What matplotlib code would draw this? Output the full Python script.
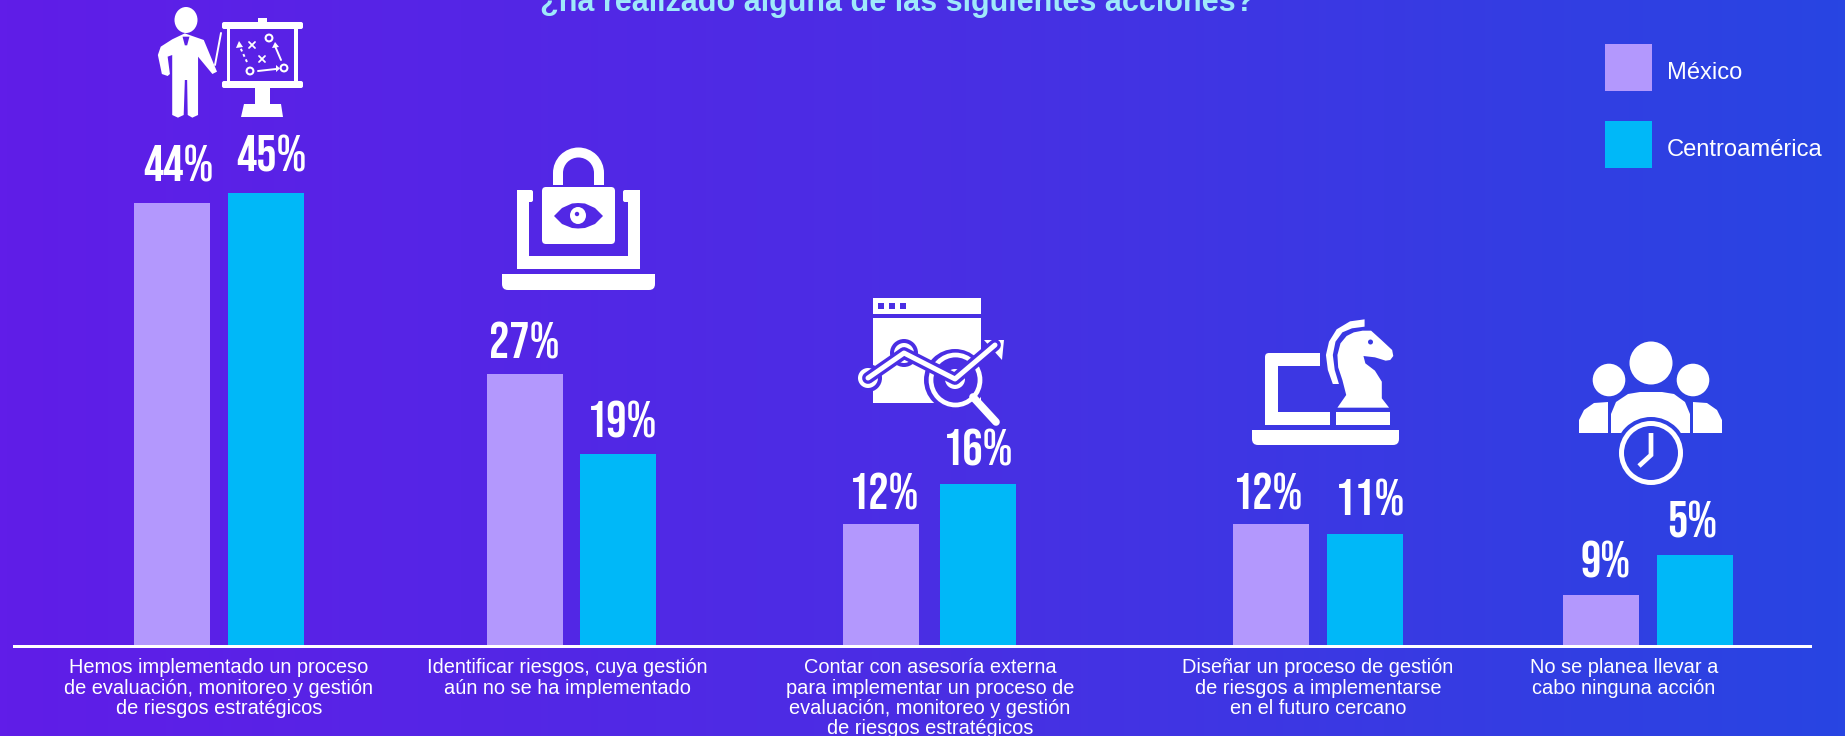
"""Barras México / Centroamérica sobre fondo degradado, con iconos dibujados a mano."""

import numpy as np
import matplotlib
matplotlib.use("Agg")
import matplotlib.pyplot as plt
from matplotlib.colors import LinearSegmentedColormap
from matplotlib.patches import Circle, Ellipse, FancyBboxPatch, Polygon, Rectangle, Wedge

TITLE = "¿ha realizado alguna de las siguientes acciones?"
SERIES = ["México", "Centroamérica"]
CATEGORIES = [
    "Hemos implementado un proceso\nde evaluación, monitoreo y gestión\nde riesgos estratégicos",
    "Identificar riesgos, cuya gestión\naún no se ha implementado",
    "Contar con asesoría externa\npara implementar un proceso de\nevaluación, monitoreo y gestión\nde riesgos estratégicos",
    "Diseñar un proceso de gestión\nde riesgos a implementarse\nen el futuro cercano",
    "No se planea llevar a\ncabo ninguna acción",
]
# Bar heights as drawn. The last group's printed labels do not follow the heights
# (short bar says 9%, tall bar says 5%), so the labels are kept separately.
MEXICO = [44, 27, 12, 12, 5]
CENTRO = [45, 19, 16, 11, 9]
MEXICO_LABELS = ["44%", "27%", "12%", "12%", "9%"]
CENTRO_LABELS = ["45%", "19%", "16%", "11%", "5%"]

# layout, pixels of the 1845x736 canvas
W, H = 1845, 736
BASE_Y = 645
PX_PER_PCT = 10.05
MEX_LEFT = [134, 487, 843, 1233, 1563]
CEN_LEFT = [228, 580, 940, 1327, 1657]
BAR_W = 76
CAT_X = [219, 567, 930, 1318, 1624]
MEX_DX = [6, -1, 3, -3, 5]
MEX_GAP = [21, 15, 15, 15, 17]
CEN_DX = [5, 4, 0, 5, -3]
CEN_GAP = [21, 17, 19, 19, 17]

C_MEX = "#B398FD"
C_CEN = "#00B8F8"
C_TITLE = "#9FE9FA"
SANS = ["Liberation Sans", "DejaVu Sans"]
CONDENSED = ["Bebas Neue", "Oswald", "Liberation Sans", "DejaVu Sans"]

grad = LinearSegmentedColormap.from_list("bg", ["#601DE8", "#4A2EE4", "#2845E2"])


def bg(x):
    return grad(x / W)


def poly(ov, pts, sx=1.0, sy=1.0, ox=0.0, oy=0.0, color="white", lw=0):
    xy = [(ox + px / sx, oy + py / sy) for px, py in pts]
    ov.add_patch(Polygon(xy, closed=True, facecolor=color, edgecolor=color, lw=lw))


def rect(ov, x0, y0, x1, y1, color="white"):
    ov.add_patch(Rectangle((x0, y0), x1 - x0, y1 - y0, facecolor=color, lw=0))


def round_rect(ov, x0, y0, x1, y1, r=3, color="white"):
    ov.add_patch(FancyBboxPatch((x0 + r, y0 + r), x1 - x0 - 2 * r, y1 - y0 - 2 * r,
                                boxstyle=f"round,pad={r}", facecolor=color, lw=0))


def laptop_base(ov, x0, y0, x1, y1):
    round_rect(ov, x0, y0, x1, y1, 6)
    rect(ov, x0, y0, x1, y0 + 7)


def line(ov, xs, ys, lw=2.0, color="white", ls="-"):
    ov.plot(xs, ys, color=color, lw=lw, ls=ls, solid_capstyle="round")


def icon_presenter(ov):
    ov.add_patch(Ellipse((186, 20), 23, 26, color="white", lw=0))
    body = [(322, 100), (300, 118), (280, 140), (275, 165), (282, 222), (292, 228), (296, 222),
            (292, 170), (300, 165), (300, 345), (310, 353), (320, 345), (322, 240), (326, 240),
            (327, 345), (335, 353), (345, 345), (345, 170), (370, 222), (378, 215), (355, 120),
            (335, 108)]
    poly(ov, body, 1.742, 3)
    poly(ov, [(318, 110), (330, 110), (326, 136), (322, 136)], 1.742, 3, color=bg(185))
    line(ov, [221, 215], [33, 65], lw=1.4)
    round_rect(ov, 222, 22, 303, 29, 2)
    round_rect(ov, 222, 81, 303, 88, 2)
    rect(ov, 258, 18, 267, 23)
    rect(ov, 227, 28, 230, 82)
    rect(ov, 294, 28, 298, 82)
    rect(ov, 255, 88, 270, 104)
    poly(ov, [(244, 104), (281, 104), (283, 117), (241, 117)])
    for cx, cy in [(250, 71), (284, 68), (269, 38)]:
        ov.add_patch(Circle((cx, cy), 3.4, facecolor="none", edgecolor="white", lw=1.5))
    line(ov, [258, 276], [71, 69], lw=1.4)
    poly(ov, [(276, 65), (280, 68.5), (276, 72)])
    line(ov, [281, 275], [60, 46], lw=1.4)
    poly(ov, [(272, 48), (275, 42), (279, 47)])
    line(ov, [247, 240], [62, 47], lw=1.4, ls=(0, (1.5, 1.5)))
    poly(ov, [(236, 48), (239, 41), (243, 47)])
    for cx, cy in [(252, 45), (262, 59)]:
        line(ov, [cx - 3, cx + 3], [cy - 3, cy + 3], lw=1.3)
        line(ov, [cx - 3, cx + 3], [cy + 3, cy - 3], lw=1.3)


def icon_lock(ov):
    laptop_base(ov, 502, 274, 655, 290)
    rect(ov, 517, 190, 529, 269)
    rect(ov, 628, 190, 640, 269)
    rect(ov, 517, 256, 640, 269)
    round_rect(ov, 517, 190, 533, 202, 2)
    round_rect(ov, 623, 190, 640, 202, 2)
    ov.add_patch(Wedge((578.5, 173), 25.5, 180, 360, width=10, color="white", lw=0))
    rect(ov, 553, 173, 563, 185)
    rect(ov, 594, 173, 604, 185)
    round_rect(ov, 542, 187, 615, 244, 4)
    c = bg(578)
    eye = [(554, 216), (562, 208), (572, 203.5), (578, 203), (585, 203.5), (595, 208), (603, 216),
           (595, 224), (585, 228), (578, 228.5), (572, 228), (562, 224)]
    poly(ov, eye, color=c)
    ov.add_patch(Ellipse((578, 215.5), 16, 17, color="white", lw=0))
    ov.add_patch(Circle((577, 214), 2.2, color=c, lw=0))


def icon_analytics(ov):
    c = bg(920)
    xs, ys = [868, 904, 955, 995], [378, 353, 379, 345]
    rect(ov, 873, 298, 981, 314)
    for x0 in (878, 889, 900):
        rect(ov, x0, 303, x0 + 6, 309, c)
    rect(ov, 873, 318, 981, 403)
    # halo of the trend line and the lens cut out of the window
    line(ov, xs, ys, lw=8.5, color=c)
    ov.add_patch(Circle((868, 378), 14, color=c, lw=0))
    ov.add_patch(Circle((904, 353), 14, color=c, lw=0))
    ov.add_patch(Ellipse((955, 380), 62, 62, color=c, lw=0))
    rect(ov, 981, 345, 990, 404, c)
    line(ov, xs, ys, lw=3.6)
    poly(ov, [(984, 340), (1004, 340), (1002, 360)])
    for cx, cy in [(868, 378), (904, 353), (955, 379)]:
        ov.add_patch(Circle((cx, cy), 10, color="white", lw=0))
        ov.add_patch(Circle((cx, cy), 3, color=c, lw=0))
    ov.add_patch(Ellipse((955.5, 380), 49, 50, facecolor="none", edgecolor="white", lw=3.4))
    line(ov, [973, 996], [397, 422], lw=5.5)


def icon_knight(ov):
    laptop_base(ov, 1252, 430, 1399, 445)
    round_rect(ov, 1265, 353, 1290, 378, 4)
    rect(ov, 1278, 366, 1330, 412, bg(1300))
    rect(ov, 1265, 370, 1278, 425)
    rect(ov, 1275, 353, 1320, 366)
    rect(ov, 1265, 412, 1330, 425)
    rect(ov, 1336, 412, 1390, 425)
    knight = [(1352, 383), (1375, 345), (1365, 300), (1354, 262), (1352, 225), (1360, 190),
              (1376, 168), (1395, 157), (1418, 152), (1440, 152), (1467, 180), (1495, 210),
              (1498, 228), (1490, 240), (1478, 242), (1450, 232), (1420, 228), (1425, 250),
              (1450, 272), (1468, 305), (1468, 355), (1487, 383)]
    poly(ov, knight, 2.613, 3, 820, 280)
    arc = [(1423, 118), (1385, 124), (1350, 148), (1330, 185), (1322, 225), (1327, 270),
           (1340, 312), (1356, 312), (1345, 270), (1340, 225), (1347, 185), (1365, 157),
           (1390, 145), (1423, 140)]
    poly(ov, arc, 2.613, 3, 820, 280)
    ov.add_patch(Ellipse((1370.5, 342), 5, 5, color=bg(1370), lw=0))


def icon_team(ov):
    c = bg(1650)
    ov.add_patch(Circle((1651, 363), 21.5, color="white", lw=0))
    ov.add_patch(Circle((1609, 380), 16.3, color="white", lw=0))
    ov.add_patch(Circle((1693, 380), 16.3, color="white", lw=0))
    poly(ov, [(1579, 433), (1579, 420), (1584, 410), (1594, 403), (1608, 402), (1608, 433)])
    poly(ov, [(1722, 433), (1722, 420), (1717, 410), (1707, 403), (1693, 402), (1693, 433)])
    poly(ov, [(1611, 433), (1611, 414), (1616, 402), (1628, 394), (1640, 392), (1662, 392), (1674, 394),
              (1685, 402), (1690, 414), (1690, 433)])
    ov.add_patch(Circle((1651, 453), 36, color=c, lw=0))
    rect(ov, 1611, 433, 1690, 440, c)
    ov.add_patch(Circle((1651, 453), 29.5, facecolor=c, edgecolor="white", lw=3.6))
    ov.plot([1651, 1651, 1639], [433, 455, 466], color="white", lw=3.4,
            solid_joinstyle="miter", solid_capstyle="butt")


def main():
    fig = plt.figure(figsize=(W / 100, H / 100), dpi=100)

    # full-bleed gradient
    back = fig.add_axes([0, 0, 1, 1], zorder=0)
    back.imshow(np.linspace(0, 1, 512)[None, :], aspect="auto", cmap=grad, extent=(0, W, H, 0))
    back.axis("off")

    # data axes: x in canvas pixels, y in percent, zero on the baseline
    ax = fig.add_axes([0, 0, 1, 1], zorder=1)
    ax.patch.set_alpha(0)
    ax.set_xlim(0, W)
    ax.set_ylim(-(H - BASE_Y) / PX_PER_PCT, BASE_Y / PX_PER_PCT)
    ax.axis("off")

    ax.bar(MEX_LEFT, MEXICO, width=BAR_W, align="edge", color=C_MEX, label=SERIES[0])
    ax.bar(CEN_LEFT, CENTRO, width=BAR_W, align="edge", color=C_CEN, label=SERIES[1])

    for left, val, lab, dx, gap in zip(MEX_LEFT, MEXICO, MEXICO_LABELS, MEX_DX, MEX_GAP):
        ax.annotate(lab, (left + BAR_W / 2 + dx, val), xytext=(0, gap * 0.72), textcoords="offset points",
                    ha="center", va="baseline", color="white", fontsize=36.5, family=CONDENSED)
    for left, val, lab, dx, gap in zip(CEN_LEFT, CENTRO, CENTRO_LABELS, CEN_DX, CEN_GAP):
        ax.annotate(lab, (left + BAR_W / 2 + dx, val), xytext=(0, gap * 0.72), textcoords="offset points",
                    ha="center", va="baseline", color="white", fontsize=36.5, family=CONDENSED)

    # overlay in canvas pixels, y down: axis line, text, legend, icons
    ov = fig.add_axes([0, 0, 1, 1], zorder=2)
    ov.patch.set_alpha(0)
    ov.set_xlim(0, W)
    ov.set_ylim(H, 0)
    ov.axis("off")

    rect(ov, 13, 645, 1812, 648)
    for x, text in zip(CAT_X, CATEGORIES):
        ov.text(x, 658, text, ha="center", va="top", color="white", fontsize=14.4,
                family=SANS, linespacing=1.1)

    ov.text(897, 11, TITLE, ha="center", va="baseline", color=C_TITLE, fontsize=22,
            fontweight="bold", family=SANS)

    for y0, col, name in zip((44, 121), (C_MEX, C_CEN), SERIES):
        rect(ov, 1605, y0, 1652, y0 + 47, col)
        ov.text(1667, y0 + 35, name, ha="left", va="baseline", color="white", fontsize=17.1, family=SANS)

    icon_presenter(ov)
    icon_lock(ov)
    icon_analytics(ov)
    icon_knight(ov)
    icon_team(ov)

    fig.savefig("out.png", dpi=100)


if __name__ == "__main__":
    main()
